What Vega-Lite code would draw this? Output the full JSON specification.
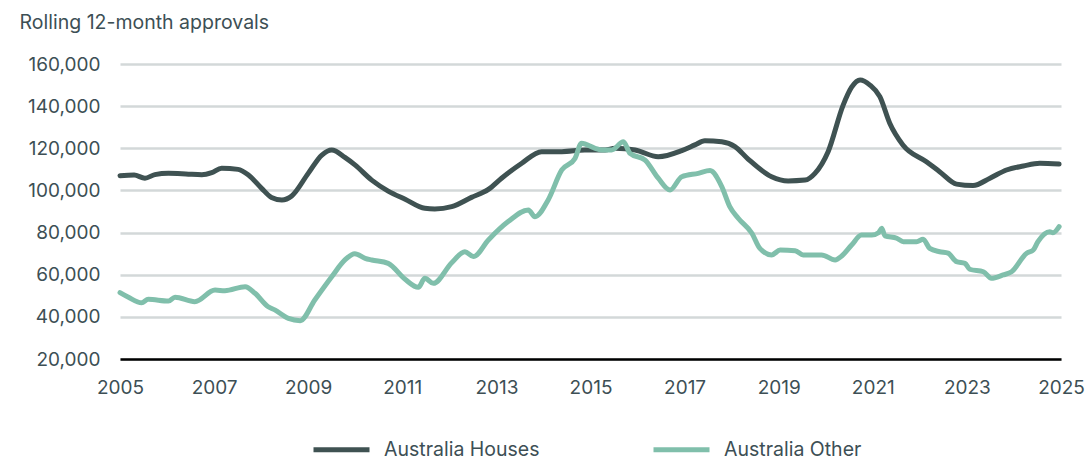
{
  "$schema": "https://vega.github.io/schema/vega-lite/v6.json",
  "autosize": "none",
  "width": 941,
  "height": 295,
  "padding": {"left": 120, "top": 64, "right": 28, "bottom": 100},
  "background": "white",
  "title": {"text": "Rolling 12-month approvals", "anchor": "start", "frame": "bounds", "dx": -8, "offset": 22, "fontSize": 19.5, "fontWeight": "normal", "color": "#3d4f55", "font": "Inter"},
  "data": {"values": [
    {"s":"Australia Houses","t":2005.0,"v":107000},
    {"s":"Australia Houses","t":2005.3,"v":107300},
    {"s":"Australia Houses","t":2005.53,"v":105800},
    {"s":"Australia Houses","t":2005.74,"v":107500},
    {"s":"Australia Houses","t":2006.03,"v":108100},
    {"s":"Australia Houses","t":2006.4,"v":107800},
    {"s":"Australia Houses","t":2006.74,"v":107400},
    {"s":"Australia Houses","t":2006.95,"v":108400},
    {"s":"Australia Houses","t":2007.16,"v":110500},
    {"s":"Australia Houses","t":2007.51,"v":110000},
    {"s":"Australia Houses","t":2007.73,"v":107300},
    {"s":"Australia Houses","t":2008.01,"v":101000},
    {"s":"Australia Houses","t":2008.22,"v":96700},
    {"s":"Australia Houses","t":2008.44,"v":95500},
    {"s":"Australia Houses","t":2008.65,"v":97400},
    {"s":"Australia Houses","t":2009.0,"v":108100},
    {"s":"Australia Houses","t":2009.29,"v":116800},
    {"s":"Australia Houses","t":2009.5,"v":119200},
    {"s":"Australia Houses","t":2009.78,"v":115700},
    {"s":"Australia Houses","t":2010.0,"v":112000},
    {"s":"Australia Houses","t":2010.35,"v":104900},
    {"s":"Australia Houses","t":2010.7,"v":99700},
    {"s":"Australia Houses","t":2011.06,"v":95800},
    {"s":"Australia Houses","t":2011.48,"v":91500},
    {"s":"Australia Houses","t":2011.69,"v":91200},
    {"s":"Australia Houses","t":2012.05,"v":92300},
    {"s":"Australia Houses","t":2012.47,"v":96700},
    {"s":"Australia Houses","t":2012.83,"v":100500},
    {"s":"Australia Houses","t":2013.11,"v":105800},
    {"s":"Australia Houses","t":2013.54,"v":112900},
    {"s":"Australia Houses","t":2013.96,"v":118400},
    {"s":"Australia Houses","t":2014.39,"v":118400},
    {"s":"Australia Houses","t":2014.88,"v":119200},
    {"s":"Australia Houses","t":2015.31,"v":119200},
    {"s":"Australia Houses","t":2015.52,"v":120000},
    {"s":"Australia Houses","t":2015.95,"v":119200},
    {"s":"Australia Houses","t":2016.44,"v":116000},
    {"s":"Australia Houses","t":2016.94,"v":118900},
    {"s":"Australia Houses","t":2017.22,"v":121600},
    {"s":"Australia Houses","t":2017.43,"v":123600},
    {"s":"Australia Houses","t":2017.79,"v":123100},
    {"s":"Australia Houses","t":2018.07,"v":120800},
    {"s":"Australia Houses","t":2018.35,"v":114900},
    {"s":"Australia Houses","t":2018.85,"v":106500},
    {"s":"Australia Houses","t":2019.2,"v":104500},
    {"s":"Australia Houses","t":2019.56,"v":104900},
    {"s":"Australia Houses","t":2019.77,"v":108100},
    {"s":"Australia Houses","t":2020.05,"v":118400},
    {"s":"Australia Houses","t":2020.37,"v":140500},
    {"s":"Australia Houses","t":2020.55,"v":149000},
    {"s":"Australia Houses","t":2020.73,"v":152400},
    {"s":"Australia Houses","t":2020.94,"v":150000},
    {"s":"Australia Houses","t":2021.15,"v":144500},
    {"s":"Australia Houses","t":2021.36,"v":131900},
    {"s":"Australia Houses","t":2021.64,"v":121600},
    {"s":"Australia Houses","t":2022.14,"v":113600},
    {"s":"Australia Houses","t":2022.42,"v":108900},
    {"s":"Australia Houses","t":2022.78,"v":103000},
    {"s":"Australia Houses","t":2023.13,"v":102300},
    {"s":"Australia Houses","t":2023.49,"v":105800},
    {"s":"Australia Houses","t":2023.84,"v":109700},
    {"s":"Australia Houses","t":2024.2,"v":111600},
    {"s":"Australia Houses","t":2024.55,"v":112900},
    {"s":"Australia Houses","t":2024.96,"v":112500},
    {"s":"Australia Other","t":2005.0,"v":51500},
    {"s":"Australia Other","t":2005.18,"v":49300},
    {"s":"Australia Other","t":2005.46,"v":46700},
    {"s":"Australia Other","t":2005.6,"v":48300},
    {"s":"Australia Other","t":2006.03,"v":47500},
    {"s":"Australia Other","t":2006.17,"v":49300},
    {"s":"Australia Other","t":2006.59,"v":47200},
    {"s":"Australia Other","t":2007.02,"v":52700},
    {"s":"Australia Other","t":2007.23,"v":52400},
    {"s":"Australia Other","t":2007.66,"v":54300},
    {"s":"Australia Other","t":2007.87,"v":51200},
    {"s":"Australia Other","t":2008.15,"v":44800},
    {"s":"Australia Other","t":2008.29,"v":43300},
    {"s":"Australia Other","t":2008.58,"v":39300},
    {"s":"Australia Other","t":2008.83,"v":38200},
    {"s":"Australia Other","t":2009.14,"v":48000},
    {"s":"Australia Other","t":2009.5,"v":59000},
    {"s":"Australia Other","t":2009.78,"v":67000},
    {"s":"Australia Other","t":2009.99,"v":70000},
    {"s":"Australia Other","t":2010.21,"v":67800},
    {"s":"Australia Other","t":2010.35,"v":67000},
    {"s":"Australia Other","t":2010.7,"v":65400},
    {"s":"Australia Other","t":2011.06,"v":57800},
    {"s":"Australia Other","t":2011.34,"v":54000},
    {"s":"Australia Other","t":2011.48,"v":58300},
    {"s":"Australia Other","t":2011.66,"v":55900},
    {"s":"Australia Other","t":2012.05,"v":65700},
    {"s":"Australia Other","t":2012.33,"v":70900},
    {"s":"Australia Other","t":2012.51,"v":68600},
    {"s":"Australia Other","t":2012.83,"v":76500},
    {"s":"Australia Other","t":2013.25,"v":85200},
    {"s":"Australia Other","t":2013.68,"v":90700},
    {"s":"Australia Other","t":2013.82,"v":87500},
    {"s":"Australia Other","t":2014.1,"v":95500},
    {"s":"Australia Other","t":2014.39,"v":109700},
    {"s":"Australia Other","t":2014.67,"v":115200},
    {"s":"Australia Other","t":2014.81,"v":122400},
    {"s":"Australia Other","t":2015.1,"v":120000},
    {"s":"Australia Other","t":2015.24,"v":119200},
    {"s":"Australia Other","t":2015.45,"v":119200},
    {"s":"Australia Other","t":2015.7,"v":123100},
    {"s":"Australia Other","t":2015.84,"v":117600},
    {"s":"Australia Other","t":2016.16,"v":114400},
    {"s":"Australia Other","t":2016.44,"v":105800},
    {"s":"Australia Other","t":2016.69,"v":100200},
    {"s":"Australia Other","t":2016.94,"v":106500},
    {"s":"Australia Other","t":2017.29,"v":108100},
    {"s":"Australia Other","t":2017.54,"v":109400},
    {"s":"Australia Other","t":2017.79,"v":101800},
    {"s":"Australia Other","t":2017.96,"v":92300},
    {"s":"Australia Other","t":2018.14,"v":86800},
    {"s":"Australia Other","t":2018.43,"v":79700},
    {"s":"Australia Other","t":2018.6,"v":72500},
    {"s":"Australia Other","t":2018.85,"v":69400},
    {"s":"Australia Other","t":2019.03,"v":71700},
    {"s":"Australia Other","t":2019.35,"v":71400},
    {"s":"Australia Other","t":2019.52,"v":69400},
    {"s":"Australia Other","t":2019.91,"v":69400},
    {"s":"Australia Other","t":2020.2,"v":67000},
    {"s":"Australia Other","t":2020.34,"v":68900},
    {"s":"Australia Other","t":2020.55,"v":74100},
    {"s":"Australia Other","t":2020.76,"v":78800},
    {"s":"Australia Other","t":2020.98,"v":78800},
    {"s":"Australia Other","t":2021.12,"v":79900},
    {"s":"Australia Other","t":2021.19,"v":82000},
    {"s":"Australia Other","t":2021.26,"v":78400},
    {"s":"Australia Other","t":2021.51,"v":77300},
    {"s":"Australia Other","t":2021.65,"v":75700},
    {"s":"Australia Other","t":2021.93,"v":75700},
    {"s":"Australia Other","t":2022.07,"v":76800},
    {"s":"Australia Other","t":2022.21,"v":72500},
    {"s":"Australia Other","t":2022.42,"v":70900},
    {"s":"Australia Other","t":2022.6,"v":70200},
    {"s":"Australia Other","t":2022.78,"v":66200},
    {"s":"Australia Other","t":2022.96,"v":65400},
    {"s":"Australia Other","t":2023.06,"v":62600},
    {"s":"Australia Other","t":2023.35,"v":61400},
    {"s":"Australia Other","t":2023.52,"v":58300},
    {"s":"Australia Other","t":2023.77,"v":59900},
    {"s":"Australia Other","t":2023.95,"v":61400},
    {"s":"Australia Other","t":2024.27,"v":70200},
    {"s":"Australia Other","t":2024.41,"v":71700},
    {"s":"Australia Other","t":2024.51,"v":75700},
    {"s":"Australia Other","t":2024.76,"v":80400},
    {"s":"Australia Other","t":2024.83,"v":79900},
    {"s":"Australia Other","t":2024.96,"v":82800}
  ]},
  "mark": {"type": "line", "strokeWidth": 5, "interpolate": "monotone", "strokeCap": "round", "strokeJoin": "round"},
  "encoding": {
    "x": {"field": "t", "type": "quantitative", "scale": {"domain": [2005, 2025], "nice": false, "zero": false},
      "axis": {"title": null, "values": [2005,2007,2009,2011,2013,2015,2017,2019,2021,2023,2025], "format": "d", "grid": false, "ticks": false, "domain": true, "domainColor": "#000000", "domainWidth": 2.5, "labelPadding": 19, "labelFontSize": 19, "labelColor": "#3d4f55", "labelFont": "Inter", "labelFlush": false}},
    "y": {"field": "v", "type": "quantitative", "scale": {"domain": [20000, 160000], "nice": false, "zero": false},
      "axis": {"title": null, "values": [20000,40000,60000,80000,100000,120000,140000,160000], "format": ",d", "grid": true, "gridColor": "#d3d8d9", "gridWidth": 2.5, "ticks": false, "domain": false, "labelPadding": 20, "labelFontSize": 19, "labelColor": "#3d4f55", "labelFont": "Inter"}},
    "color": {"field": "s", "type": "nominal", "scale": {"domain": ["Australia Houses", "Australia Other"], "range": ["#3f5252", "#80bfab"]},
      "legend": {"title": null, "orient": "none", "legendX": 191, "legendY": 355, "padding": 0, "direction": "horizontal", "symbolType": "stroke", "symbolSize": 3136, "symbolStrokeWidth": 5, "labelFontSize": 19.5, "labelColor": "#3d4f55", "labelFont": "Inter", "labelOffset": 12, "columnPadding": 103}}
  },
  "config": {"view": {"stroke": null}}
}
